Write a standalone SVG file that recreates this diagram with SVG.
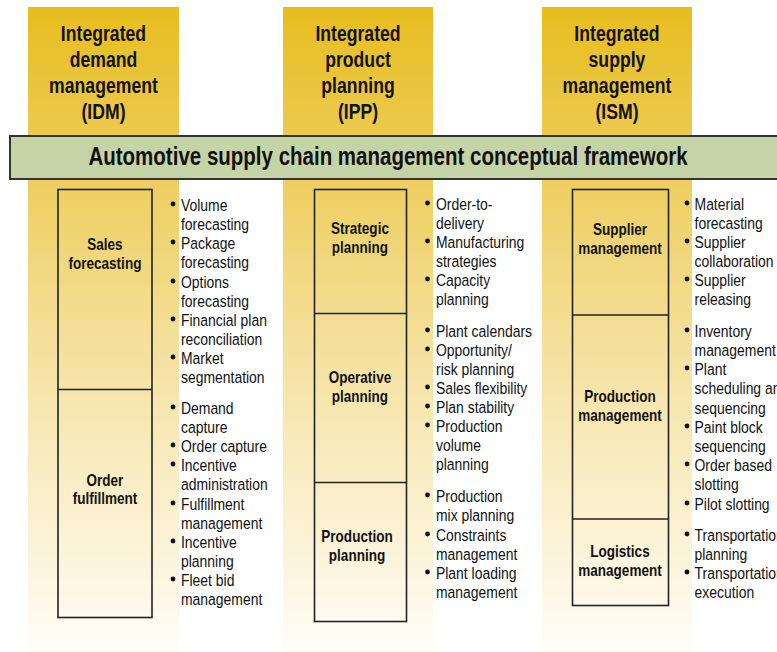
<svg xmlns="http://www.w3.org/2000/svg" width="777" height="652" viewBox="0 0 777 652">
<defs>
<linearGradient id="gold" x1="0" y1="7" x2="0" y2="652" gradientUnits="userSpaceOnUse">
<stop offset="0" stop-color="#E7BD1E"/>
<stop offset="0.25" stop-color="#EDCD5A"/>
<stop offset="0.55" stop-color="#F5E2A2"/>
<stop offset="1" stop-color="#FFFDF7"/>
</linearGradient>
<style>
text{font-family:"Liberation Sans",Arial,sans-serif;fill:#111}
.hd{font-size:21.5px;font-weight:bold;text-anchor:middle}
.bn{font-size:25px;font-weight:bold;text-anchor:middle}
.lb{font-size:16.5px;font-weight:bold;text-anchor:middle}
.it{font-size:17px}
.box{fill:none;stroke:#222;stroke-width:1.6}
.bul{fill:#111}
</style>
</defs>
<rect width="777" height="652" fill="#fff"/>
<g id="col-idm">
<rect x="28" y="7" width="151" height="645" fill="url(#gold)"/>
<g transform="scale(0.82 1)">
<text class="hd" x="126.2" y="41">Integrated</text>
<text class="hd" x="126.2" y="67">demand</text>
<text class="hd" x="126.2" y="93">management</text>
<text class="hd" x="126.2" y="119">(IDM)</text>
</g>
</g>
<g id="col-ipp">
<rect x="283" y="7" width="150" height="645" fill="url(#gold)"/>
<g transform="scale(0.82 1)">
<text class="hd" x="436.6" y="41">Integrated</text>
<text class="hd" x="436.6" y="67">product</text>
<text class="hd" x="436.6" y="93">planning</text>
<text class="hd" x="436.6" y="119">(IPP)</text>
</g>
</g>
<g id="col-ism">
<rect x="542" y="7" width="150" height="645" fill="url(#gold)"/>
<g transform="scale(0.82 1)">
<text class="hd" x="752.4" y="41">Integrated</text>
<text class="hd" x="752.4" y="67">supply</text>
<text class="hd" x="752.4" y="93">management</text>
<text class="hd" x="752.4" y="119">(ISM)</text>
</g>
</g>
<g id="banner">
<rect x="10" y="136" width="780" height="43" fill="#C5D4A6" stroke="#333" stroke-width="2"/>
<text class="bn" transform="scale(0.82 1)" x="473.2" y="165">Automotive supply chain management conceptual framework</text>
</g>
<g id="connectors"></g>
<g id="idm-boxes">
<rect class="box" x="58" y="189.5" width="94" height="428"/>
<line class="box" x1="58" y1="389.5" x2="152" y2="389.5"/>
<g transform="scale(0.82 1)">
<text class="lb" x="128" y="250">Sales</text>
<text class="lb" x="128" y="269">forecasting</text>
<text class="lb" x="128" y="486">Order</text>
<text class="lb" x="128" y="504">fulfillment</text>
</g>
</g>
<g id="idm-items">
<circle class="bul" cx="173" cy="204" r="2.4"/>
<circle class="bul" cx="173" cy="242" r="2.4"/>
<circle class="bul" cx="173" cy="281" r="2.4"/>
<circle class="bul" cx="173" cy="319" r="2.4"/>
<circle class="bul" cx="173" cy="357" r="2.4"/>
<circle class="bul" cx="173" cy="407" r="2.4"/>
<circle class="bul" cx="173" cy="445" r="2.4"/>
<circle class="bul" cx="173" cy="464" r="2.4"/>
<circle class="bul" cx="173" cy="503" r="2.4"/>
<circle class="bul" cx="173" cy="541" r="2.4"/>
<circle class="bul" cx="173" cy="579" r="2.4"/>
<g transform="scale(0.82 1)">
<text class="it" x="220.7" y="211">Volume</text>
<text class="it" x="220.7" y="230">forecasting</text>
<text class="it" x="220.7" y="249">Package</text>
<text class="it" x="220.7" y="268">forecasting</text>
<text class="it" x="220.7" y="288">Options</text>
<text class="it" x="220.7" y="307">forecasting</text>
<text class="it" x="220.7" y="326">Financial plan</text>
<text class="it" x="220.7" y="345">reconciliation</text>
<text class="it" x="220.7" y="364">Market</text>
<text class="it" x="220.7" y="383">segmentation</text>
<text class="it" x="220.7" y="414">Demand</text>
<text class="it" x="220.7" y="433">capture</text>
<text class="it" x="220.7" y="452">Order capture</text>
<text class="it" x="220.7" y="471">Incentive</text>
<text class="it" x="220.7" y="490">administration</text>
<text class="it" x="220.7" y="510">Fulfillment</text>
<text class="it" x="220.7" y="529">management</text>
<text class="it" x="220.7" y="548">Incentive</text>
<text class="it" x="220.7" y="567">planning</text>
<text class="it" x="220.7" y="586">Fleet bid</text>
<text class="it" x="220.7" y="605">management</text>
</g>
</g>
<g id="ipp-boxes">
<rect class="box" x="314.5" y="189.5" width="92" height="432"/>
<line class="box" x1="314.5" y1="313.5" x2="406.5" y2="313.5"/>
<line class="box" x1="314.5" y1="482.5" x2="406.5" y2="482.5"/>
<g transform="scale(0.82 1)">
<text class="lb" x="439" y="234">Strategic</text>
<text class="lb" x="439" y="253">planning</text>
<text class="lb" x="439" y="383">Operative</text>
<text class="lb" x="439" y="402">planning</text>
<text class="lb" x="435.4" y="542">Production</text>
<text class="lb" x="435.4" y="561">planning</text>
</g>
</g>
<g id="ipp-items">
<circle class="bul" cx="427.5" cy="203" r="2.4"/>
<circle class="bul" cx="427.5" cy="241" r="2.4"/>
<circle class="bul" cx="427.5" cy="279" r="2.4"/>
<circle class="bul" cx="427.5" cy="330" r="2.4"/>
<circle class="bul" cx="427.5" cy="349" r="2.4"/>
<circle class="bul" cx="427.5" cy="387" r="2.4"/>
<circle class="bul" cx="427.5" cy="406" r="2.4"/>
<circle class="bul" cx="427.5" cy="425" r="2.4"/>
<circle class="bul" cx="427.5" cy="495" r="2.4"/>
<circle class="bul" cx="427.5" cy="534" r="2.4"/>
<circle class="bul" cx="427.5" cy="572" r="2.4"/>
<g transform="scale(0.82 1)">
<text class="it" x="531.7" y="210">Order-to-</text>
<text class="it" x="531.7" y="229">delivery</text>
<text class="it" x="531.7" y="248">Manufacturing</text>
<text class="it" x="531.7" y="267">strategies</text>
<text class="it" x="531.7" y="286">Capacity</text>
<text class="it" x="531.7" y="305">planning</text>
<text class="it" x="531.7" y="337">Plant calendars</text>
<text class="it" x="531.7" y="356">Opportunity/</text>
<text class="it" x="531.7" y="375">risk planning</text>
<text class="it" x="531.7" y="394">Sales flexibility</text>
<text class="it" x="531.7" y="413">Plan stability</text>
<text class="it" x="531.7" y="432">Production</text>
<text class="it" x="531.7" y="451">volume</text>
<text class="it" x="531.7" y="470">planning</text>
<text class="it" x="531.7" y="502">Production</text>
<text class="it" x="531.7" y="521">mix planning</text>
<text class="it" x="531.7" y="541">Constraints</text>
<text class="it" x="531.7" y="560">management</text>
<text class="it" x="531.7" y="579">Plant loading</text>
<text class="it" x="531.7" y="598">management</text>
</g>
</g>
<g id="ism-boxes">
<rect class="box" x="572.5" y="189.5" width="96" height="416"/>
<line class="box" x1="572.5" y1="315" x2="668.5" y2="315"/>
<line class="box" x1="572.5" y1="519" x2="668.5" y2="519"/>
<g transform="scale(0.82 1)">
<text class="lb" x="756.1" y="235">Supplier</text>
<text class="lb" x="756.1" y="254">management</text>
<text class="lb" x="756.1" y="402">Production</text>
<text class="lb" x="756.1" y="421">management</text>
<text class="lb" x="756.1" y="557">Logistics</text>
<text class="lb" x="756.1" y="576">management</text>
</g>
</g>
<g id="ism-items">
<circle class="bul" cx="687" cy="203" r="2.4"/>
<circle class="bul" cx="687" cy="241" r="2.4"/>
<circle class="bul" cx="687" cy="279" r="2.4"/>
<circle class="bul" cx="687" cy="330" r="2.4"/>
<circle class="bul" cx="687" cy="368" r="2.4"/>
<circle class="bul" cx="687" cy="426" r="2.4"/>
<circle class="bul" cx="687" cy="464" r="2.4"/>
<circle class="bul" cx="687" cy="503" r="2.4"/>
<circle class="bul" cx="687" cy="534" r="2.4"/>
<circle class="bul" cx="687" cy="572" r="2.4"/>
<g transform="scale(0.82 1)">
<text class="it" x="847" y="210">Material</text>
<text class="it" x="847" y="229">forecasting</text>
<text class="it" x="847" y="248">Supplier</text>
<text class="it" x="847" y="267">collaboration</text>
<text class="it" x="847" y="286">Supplier</text>
<text class="it" x="847" y="305">releasing</text>
<text class="it" x="847" y="337">Inventory</text>
<text class="it" x="847" y="356">management</text>
<text class="it" x="847" y="375">Plant</text>
<text class="it" x="847" y="394">scheduling and</text>
<text class="it" x="847" y="414">sequencing</text>
<text class="it" x="847" y="433">Paint block</text>
<text class="it" x="847" y="452">sequencing</text>
<text class="it" x="847" y="471">Order based</text>
<text class="it" x="847" y="490">slotting</text>
<text class="it" x="847" y="510">Pilot slotting</text>
<text class="it" x="847" y="541">Transportation</text>
<text class="it" x="847" y="560">planning</text>
<text class="it" x="847" y="579">Transportation</text>
<text class="it" x="847" y="598">execution</text>
</g>
</g>
</svg>
